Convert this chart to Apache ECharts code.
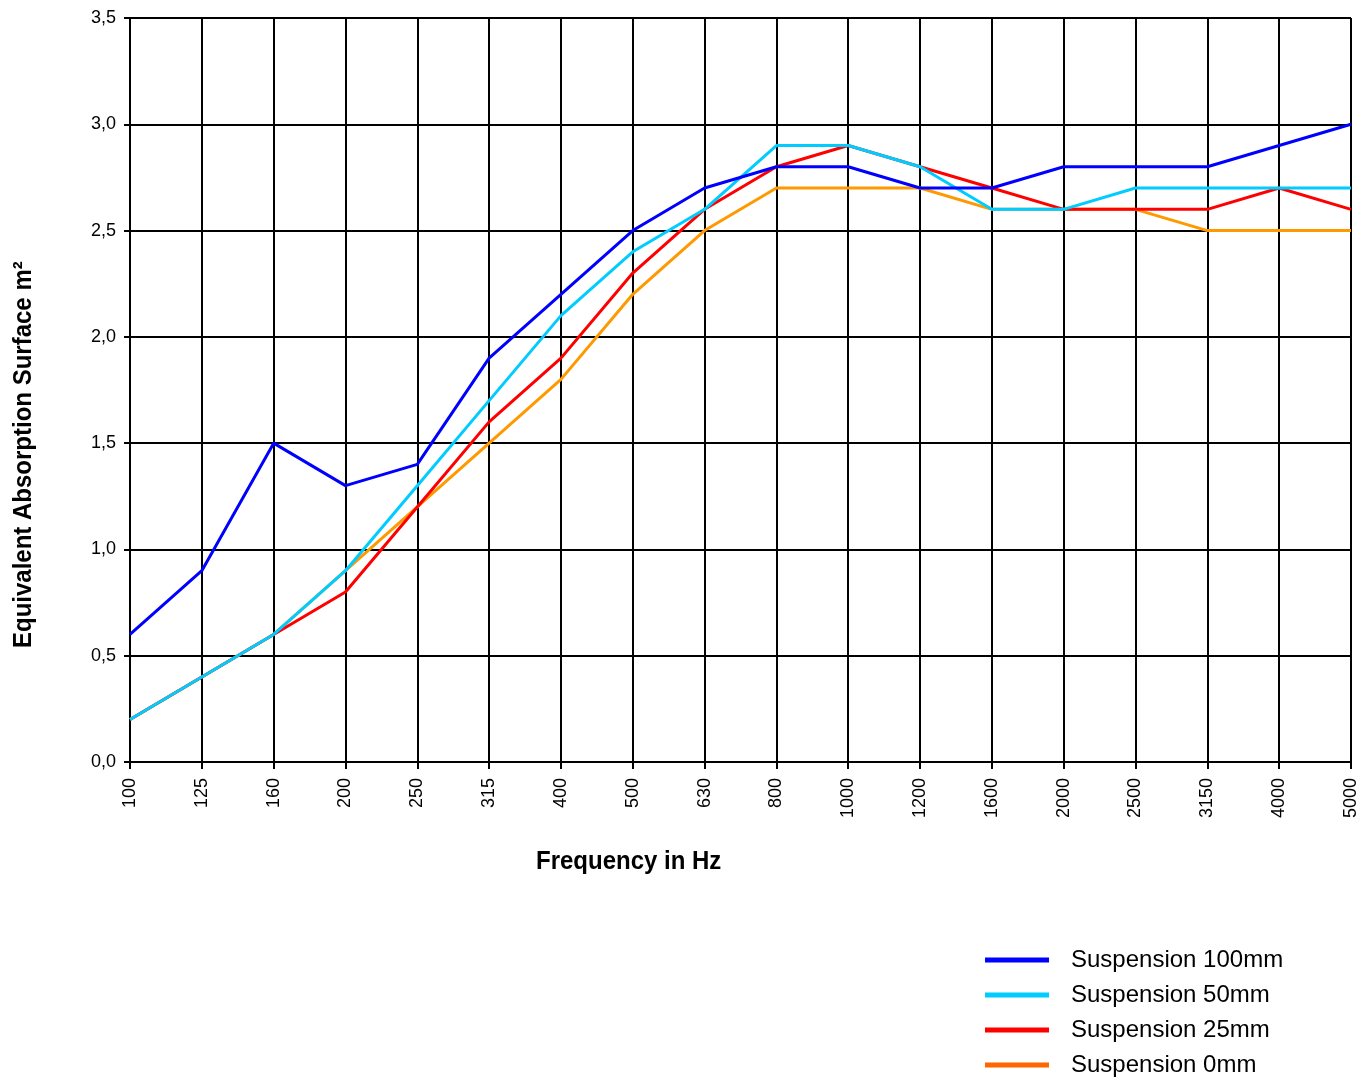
<!DOCTYPE html>
<html><head><meta charset="utf-8">
<script src="https://cdn.jsdelivr.net/npm/echarts@6/dist/echarts.min.js"></script>
<style>html,body{margin:0;padding:0;background:#fff}#c{width:1372px;height:1079px}</style>
</head><body><div id="c"></div>
<script>
const categories = ['100','125','160','200','250','315','400','500','630','800','1000','1200','1600','2000','2500','3150','4000','5000'];
const s100 = [0.6,0.9,1.5,1.3,1.4,1.9,2.2,2.5,2.7,2.8,2.8,2.7,2.7,2.8,2.8,2.8,2.9,3.0];
const s50  = [0.2,0.4,0.6,0.9,1.3,1.7,2.1,2.4,2.6,2.9,2.9,2.8,2.6,2.6,2.7,2.7,2.7,2.7];
const s25  = [0.2,0.4,0.6,0.8,1.2,1.6,1.9,2.3,2.6,2.8,2.9,2.8,2.7,2.6,2.6,2.6,2.7,2.6];
const s0   = [0.2,0.4,0.6,0.9,1.2,1.5,1.8,2.2,2.5,2.7,2.7,2.7,2.6,2.6,2.6,2.5,2.5,2.5];
const seriesNames = ['Suspension 100mm','Suspension 50mm','Suspension 25mm','Suspension 0mm'];
const colors = ['#0000FF','#00CCFF','#FF0000','#FF9900'];
const legendColors = ['#0000FF','#00CCFF','#FF0000','#FF6600'];
const xTitle = 'Frequency in Hz';
const yTitle = 'Equivalent Absorption Surface m²';

const FONT = "'Liberation Sans',Arial,sans-serif";
const chart = echarts.init(document.getElementById('c'));
const data = [s100, s50, s25, s0];
chart.setOption({
  animation: false,
  backgroundColor: '#fff',
  grid: {left: 130, right: 21, top: 18, bottom: 317, containLabel: false},
  graphic: [
    {type: 'text', x: 536, y: 850, scaleX: 0.96, style: {text: xTitle, font: "bold 25px " + FONT, fill: '#000'}},
    {type: 'text', x: 12, y: 648, rotation: Math.PI/2, scaleX: 0.96, style: {text: yTitle, font: "bold 25px " + FONT, fill: '#000', verticalAlign: 'top'}}
  ],
  legend: {
    orient: 'vertical', left: 985, top: 948, bottom: 0, padding: 0, itemWidth: 64, itemHeight: 5, itemGap: 11,
    icon: 'rect',
    textStyle: {fontFamily: FONT, fontSize: 24, color: '#000', padding: [0,0,0,17]},
    data: seriesNames.map((n, i) => ({name: n, itemStyle: {color: legendColors[i]}}))
  },
  xAxis: {
    type: 'category', data: categories, boundaryGap: false,
    axisLine: {lineStyle: {color: '#000', width: 2}},
    axisTick: {show: true, alignWithLabel: true, length: 7, lineStyle: {color: '#000', width: 2}},
    axisLabel: {rotate: 90, color: '#000', fontFamily: FONT, fontSize: 18, margin: 16},
    splitLine: {show: true, lineStyle: {color: '#000', width: 2}}
  },
  yAxis: {
    type: 'value', min: 0, max: 3.5, interval: 0.5,
    axisLine: {show: true, lineStyle: {color: '#000', width: 2}},
    axisTick: {show: true, length: 6, lineStyle: {color: '#000', width: 2}},
    axisLabel: {color: '#000', fontFamily: FONT, fontSize: 18, margin: 14,
      formatter: v => v.toFixed(1).replace('.', ',')},
    splitLine: {show: true, lineStyle: {color: '#000', width: 2}}
  },
  series: data.map((d, i) => ({
    name: seriesNames[i], type: 'line', data: d, symbol: 'none',
    lineStyle: {color: colors[i], width: 3}, itemStyle: {color: colors[i]}, z: 10 - i
  }))
});
</script></body></html>
